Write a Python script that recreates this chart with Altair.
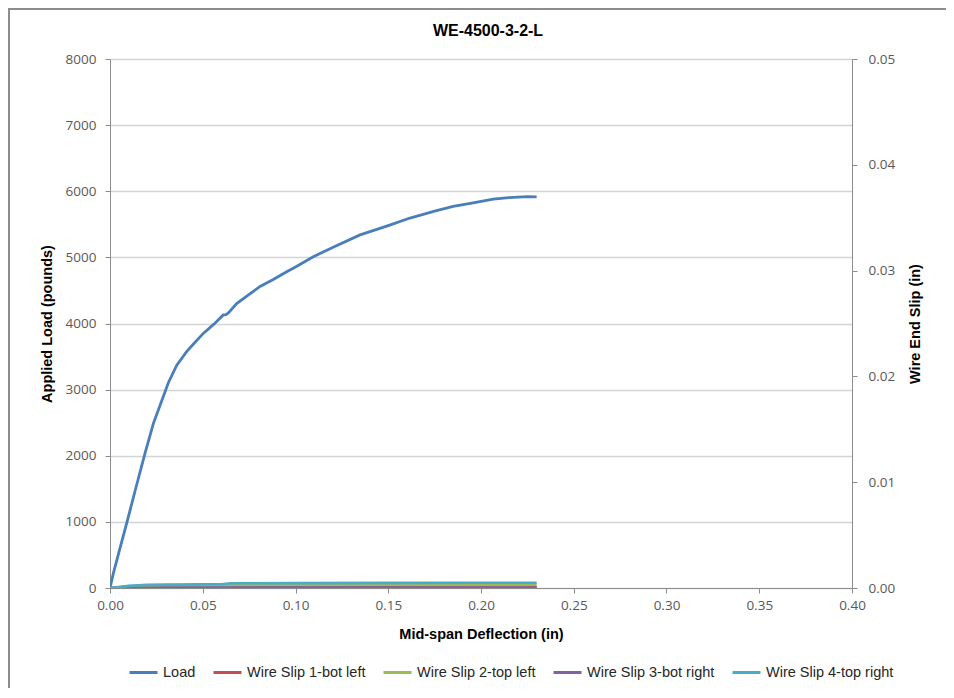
import altair as alt
import pandas as pd

# ---- data ----
load_x = [0.0, 0.0018, 0.005, 0.009, 0.014, 0.0189, 0.0234, 0.028, 0.0314, 0.036,
          0.0413, 0.046, 0.0503, 0.056, 0.0611, 0.0625, 0.0638, 0.0683, 0.075, 0.0809,
          0.088, 0.095, 0.100, 0.1096, 0.120, 0.1348, 0.150, 0.1617, 0.175, 0.185,
          0.195, 0.2066, 0.215, 0.225, 0.230]
load_y = [0, 222, 560, 980, 1520, 2040, 2490, 2840, 3100, 3370,
          3575, 3720, 3850, 3990, 4130, 4135, 4160, 4300, 4440, 4560,
          4665, 4780, 4855, 5010, 5150, 5340, 5480, 5595, 5700, 5770,
          5820, 5880, 5905, 5920, 5915]

slip_x = [0.0, 0.005, 0.010, 0.020, 0.030, 0.050, 0.060, 0.065, 0.100, 0.150, 0.200, 0.230]
slip1 = [0.0, 0.00003, 0.00005, 0.00008, 0.0001, 0.0001, 0.0001, 0.00012, 0.00012, 0.00012, 0.00013, 0.00013]
slip2 = [0.0, 0.0001, 0.00015, 0.0002, 0.0002, 0.00022, 0.00022, 0.00025, 0.00026, 0.00028, 0.0003, 0.0003]
slip3 = [0.0, 0.0, 0.00002, 0.00003, 0.00004, 0.00005, 0.00005, 0.00005, 0.00005, 0.00005, 0.00005, 0.00005]
slip4 = [0.0, 0.0001, 0.0002, 0.0003, 0.00032, 0.00034, 0.00035, 0.00045, 0.00046, 0.00048, 0.0005, 0.0005]

series_names = ["Load", "Wire Slip 1-bot left", "Wire Slip 2-top left",
                "Wire Slip 3-bot right", "Wire Slip 4-top right"]
series_colors = ["#4A7EBB", "#C0504D", "#9BBB59", "#8064A2", "#4BACC6"]

x_ticks = [0.0, 0.05, 0.10, 0.15, 0.20, 0.25, 0.30, 0.35, 0.40]
load_ticks = [0, 1000, 2000, 3000, 4000, 5000, 6000, 7000, 8000]
slip_ticks = [0.0, 0.01, 0.02, 0.03, 0.04, 0.05]

chart_title = "WE-4500-3-2-L"

# ---- tables ----
load_df = pd.DataFrame({"x": load_x, "load": load_y, "series": "Load"})
slip_rows = []
for name, vals in zip(series_names[1:], [slip1, slip2, slip3, slip4]):
    for xv, sv in zip(slip_x, vals):
        slip_rows.append({"x": xv, "slip": sv, "series": name})
slip_df = pd.DataFrame(slip_rows)

W, H = 742, 529
LABEL_FONT = "Open Sans"
TEXT_FONT = "Liberation Sans"

color_scale = alt.Scale(domain=series_names, range=series_colors)
legend = alt.Legend(
    orient="none", legendX=18, legendY=598, direction="horizontal", title=None,
    symbolType="stroke", symbolSize=784, symbolStrokeWidth=3,
    labelFont=TEXT_FONT, labelFontSize=14.5, labelColor="#262626",
    labelOffset=4, columnPadding=11, columns=5,
)

x_enc = alt.X(
    "x:Q",
    scale=alt.Scale(domain=[0, 0.4], nice=False),
    axis=alt.Axis(
        title="Mid-span Deflection (in)", values=x_ticks, format=".2f",
        grid=False, tickSize=5, labelPadding=5, labelFlush=False,
        titleY=46, titleBaseline="middle",
    ),
)

load_layer = alt.Chart(load_df).mark_line(strokeWidth=2.8, clip=True).encode(
    x=x_enc,
    y=alt.Y(
        "load:Q",
        scale=alt.Scale(domain=[0, 8000], nice=False),
        axis=alt.Axis(
            title="Applied Load (pounds)", orient="left", values=load_ticks, format="d",
            grid=True, tickSize=5, labelPadding=9,
            titleX=-63, titleY=H / 2, titleAngle=270, titleAlign="center",
            titleBaseline="middle",
        ),
    ),
    color=alt.Color("series:N", scale=color_scale, legend=legend),
    order=alt.Order("x:Q"),
)

slip_layer = alt.Chart(slip_df).mark_line(strokeWidth=2.6, clip=True).encode(
    x=x_enc,
    y=alt.Y(
        "slip:Q",
        scale=alt.Scale(domain=[0, 0.05], nice=False),
        axis=alt.Axis(
            title="Wire End Slip (in)", orient="right", values=slip_ticks, format=".2f",
            grid=False, tickSize=5, labelPadding=11,
            titleX=63, titleY=H / 2, titleAngle=270, titleAlign="center",
            titleBaseline="middle",
        ),
    ),
    color=alt.Color("series:N", scale=color_scale, legend=legend),
    order=alt.Order("x:Q"),
)

frame_data = alt.Data(values=[{"k": 1}])
border_left = alt.Chart(frame_data).mark_rule(
    stroke="#8C8C8C", strokeWidth=2, clip=False
).encode(
    x=alt.value(-101), y=alt.value(-51), y2=alt.value(H + 300),
)
border_top = alt.Chart(frame_data).mark_rule(
    stroke="#8C8C8C", strokeWidth=2, clip=False
).encode(
    x=alt.value(-102), x2=alt.value(W + 500), y=alt.value(-50),
)

title_layer = alt.Chart(alt.Data(values=[{"t": chart_title}])).mark_text(
    font=TEXT_FONT, fontSize=16, fontWeight="bold", color="#000000",
    align="center", baseline="middle", clip=False,
).encode(
    text="t:N", x=alt.value(378), y=alt.value(-28),
)

chart = alt.layer(border_left, border_top, load_layer, slip_layer, title_layer).resolve_scale(
    y="independent"
).properties(
    width=W, height=H,
    background="white",
    autosize=alt.AutoSizeParams(type="none"),
    padding={"left": 102, "top": 51, "right": 94, "bottom": 100},
).configure_view(
    stroke=None
).configure_axis(
    labelFont=LABEL_FONT, labelFontSize=13.5, labelColor="#595959",
    titleFont=TEXT_FONT, titleFontSize=14.5, titleFontWeight="bold", titleColor="#000000",
    domainColor="#8C8C8C", tickColor="#8C8C8C", gridColor="#D4D4D4", gridWidth=1.3,
)

chart.save("out.html", embed_options={"renderer": "svg", "actions": False})
